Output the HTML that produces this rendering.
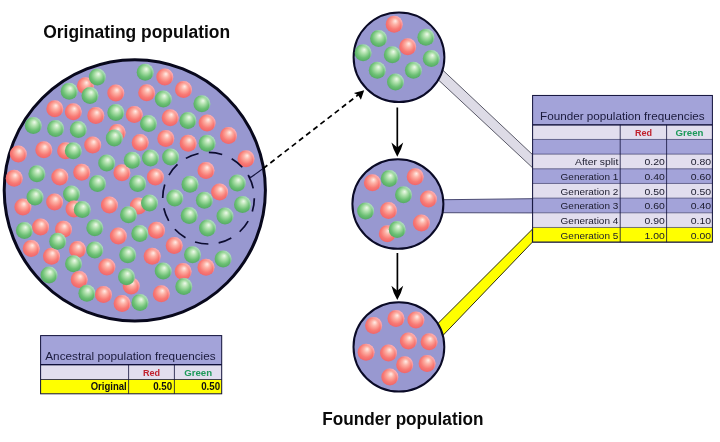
<!DOCTYPE html>
<html lang="en">
<head>
<meta charset="utf-8">
<title>Founder effect</title>
<style>
html,body{margin:0;padding:0;background:#fff;}
body{width:720px;height:442px;overflow:hidden;}
svg{display:block;will-change:transform;}
svg text{font-family:"Liberation Sans",sans-serif;}
</style>
</head>
<body>
<svg width="720" height="442" viewBox="0 0 720 442">
<defs>
<radialGradient id="gR" cx="0.5" cy="0.45" r="0.6" fx="0.57" fy="0.31">
<stop offset="0" stop-color="#ffeee8"/>
<stop offset="0.3" stop-color="#fdb2a6"/>
<stop offset="0.66" stop-color="#f87a74"/>
<stop offset="1" stop-color="#ee6068"/>
</radialGradient>
<radialGradient id="gG" cx="0.5" cy="0.45" r="0.6" fx="0.57" fy="0.31">
<stop offset="0" stop-color="#f0faec"/>
<stop offset="0.3" stop-color="#b2e2ae"/>
<stop offset="0.66" stop-color="#6cc074"/>
<stop offset="1" stop-color="#4ea460"/>
</radialGradient>
<radialGradient id="rimR" cx="0.34" cy="0.62" r="0.76">
<stop offset="0.72" stop-color="#ffd0e0" stop-opacity="0"/>
<stop offset="1" stop-color="#ffdcec" stop-opacity="0.95"/>
</radialGradient>
<radialGradient id="rimG" cx="0.34" cy="0.62" r="0.76">
<stop offset="0.72" stop-color="#e0f0ff" stop-opacity="0"/>
<stop offset="1" stop-color="#e6f2fc" stop-opacity="0.95"/>
</radialGradient>
<g id="bR"><circle r="8.5" fill="url(#gR)"/><circle r="8.5" fill="url(#rimR)"/></g>
<g id="bG"><circle r="8.5" fill="url(#gG)"/><circle r="8.5" fill="url(#rimG)"/></g>
</defs>
<rect width="720" height="442" fill="#ffffff"/>

<!-- connectors -->
<polygon points="435.4,63.2 532.4,154.5 532.4,167.6 430.2,72.3" fill="#dddbe6" stroke="#5a5a68" stroke-width="1"/>
<polygon points="436,199.8 532.4,198.7 532.4,212.9 436,212.7" fill="#a3a3d9" stroke="#4a4a72" stroke-width="1"/>
<polygon points="429.2,332.2 532.4,229.2 532.4,242.1 435.2,343.5" fill="#ffff00" stroke="#2c2c10" stroke-width="1"/>

<!-- big circle -->
<circle cx="134.8" cy="190.35" r="130.6" fill="#9898d0" stroke="#08081c" stroke-width="3"/>
<use href="#bG" x="145.2" y="72.2"/>
<use href="#bR" x="85.4" y="85.8"/>
<use href="#bG" x="97.3" y="77.1"/>
<use href="#bR" x="164.8" y="77.1"/>
<use href="#bG" x="69.2" y="91.3"/>
<use href="#bG" x="90.0" y="95.4"/>
<use href="#bR" x="115.8" y="93.1"/>
<use href="#bR" x="146.7" y="92.7"/>
<use href="#bR" x="183.5" y="89.6"/>
<use href="#bG" x="163.3" y="99.0"/>
<use href="#bG" x="201.9" y="103.8"/>
<use href="#bR" x="54.8" y="108.8"/>
<use href="#bR" x="73.3" y="111.7"/>
<use href="#bR" x="95.8" y="115.6"/>
<use href="#bG" x="115.8" y="112.5"/>
<use href="#bR" x="134.3" y="114.6"/>
<use href="#bR" x="170.2" y="117.7"/>
<use href="#bG" x="187.9" y="120.4"/>
<use href="#bR" x="207.1" y="122.9"/>
<use href="#bG" x="33.3" y="125.4"/>
<use href="#bG" x="55.6" y="128.6"/>
<use href="#bG" x="78.3" y="129.4"/>
<use href="#bG" x="148.5" y="123.5"/>
<use href="#bR" x="117.1" y="132.4"/>
<use href="#bG" x="114.3" y="138.0"/>
<use href="#bR" x="228.5" y="135.6"/>
<use href="#bR" x="92.7" y="145.0"/>
<use href="#bR" x="140.2" y="142.4"/>
<use href="#bR" x="165.8" y="138.5"/>
<use href="#bR" x="188.2" y="143.2"/>
<use href="#bG" x="207.1" y="143.3"/>
<use href="#bR" x="18.3" y="154.0"/>
<use href="#bR" x="43.8" y="149.8"/>
<use href="#bR" x="65.6" y="150.8"/>
<use href="#bG" x="73.3" y="150.8"/>
<use href="#bG" x="106.7" y="162.9"/>
<use href="#bR" x="121.9" y="172.7"/>
<use href="#bG" x="132.3" y="160.2"/>
<use href="#bG" x="150.5" y="158.0"/>
<use href="#bG" x="170.6" y="157.1"/>
<use href="#bR" x="246.0" y="158.8"/>
<use href="#bR" x="14.2" y="178.3"/>
<use href="#bG" x="36.9" y="173.8"/>
<use href="#bR" x="59.8" y="176.9"/>
<use href="#bR" x="81.7" y="172.3"/>
<use href="#bR" x="206.0" y="170.6"/>
<use href="#bR" x="155.4" y="176.9"/>
<use href="#bG" x="97.5" y="183.5"/>
<use href="#bG" x="137.7" y="183.5"/>
<use href="#bG" x="190.0" y="184.2"/>
<use href="#bG" x="237.3" y="183.1"/>
<use href="#bR" x="219.6" y="192.1"/>
<use href="#bR" x="22.9" y="207.0"/>
<use href="#bG" x="35.0" y="197.1"/>
<use href="#bG" x="71.5" y="194.0"/>
<use href="#bG" x="174.8" y="198.1"/>
<use href="#bG" x="204.4" y="200.2"/>
<use href="#bG" x="242.5" y="204.4"/>
<use href="#bR" x="54.6" y="201.9"/>
<use href="#bR" x="74.0" y="209.0"/>
<use href="#bG" x="82.3" y="209.5"/>
<use href="#bR" x="109.4" y="205.0"/>
<use href="#bR" x="138.4" y="206.0"/>
<use href="#bG" x="149.5" y="203.0"/>
<use href="#bG" x="128.5" y="214.8"/>
<use href="#bG" x="189.2" y="215.6"/>
<use href="#bG" x="225.0" y="216.0"/>
<use href="#bG" x="24.4" y="230.4"/>
<use href="#bR" x="40.6" y="227.0"/>
<use href="#bR" x="63.5" y="229.2"/>
<use href="#bG" x="94.8" y="227.7"/>
<use href="#bG" x="207.5" y="228.1"/>
<use href="#bR" x="118.3" y="236.0"/>
<use href="#bG" x="139.8" y="233.6"/>
<use href="#bR" x="156.5" y="230.2"/>
<use href="#bR" x="51.5" y="256.2"/>
<use href="#bG" x="57.7" y="241.2"/>
<use href="#bR" x="31.2" y="248.5"/>
<use href="#bR" x="77.5" y="249.6"/>
<use href="#bG" x="94.8" y="250.0"/>
<use href="#bR" x="174.2" y="245.4"/>
<use href="#bG" x="127.7" y="254.8"/>
<use href="#bR" x="152.2" y="256.2"/>
<use href="#bG" x="192.5" y="254.8"/>
<use href="#bG" x="223.1" y="259.0"/>
<use href="#bG" x="73.5" y="263.8"/>
<use href="#bR" x="106.9" y="267.0"/>
<use href="#bR" x="206.0" y="267.3"/>
<use href="#bG" x="163.2" y="271.0"/>
<use href="#bR" x="183.1" y="271.5"/>
<use href="#bG" x="49.0" y="275.0"/>
<use href="#bR" x="79.2" y="279.4"/>
<use href="#bR" x="131.2" y="286.0"/>
<use href="#bG" x="126.5" y="276.7"/>
<use href="#bG" x="183.8" y="286.5"/>
<use href="#bG" x="86.9" y="293.3"/>
<use href="#bR" x="103.5" y="294.4"/>
<use href="#bR" x="161.3" y="293.8"/>
<use href="#bR" x="122.1" y="303.5"/>
<use href="#bG" x="140.0" y="302.5"/>
<circle cx="208.5" cy="198.2" r="45.8" fill="none" stroke="#0c0c30" stroke-width="1.7" stroke-dasharray="13.6 10.38"/>

<!-- small circles -->
<ellipse cx="399" cy="57.3" rx="45.4" ry="44.8" fill="#9898d0" stroke="#0a0a26" stroke-width="2"/>
<use href="#bR" x="394.2" y="24.2"/>
<use href="#bG" x="378.6" y="38.6"/>
<use href="#bG" x="425.9" y="37.3"/>
<use href="#bG" x="392.3" y="54.8"/>
<use href="#bR" x="407.7" y="46.8"/>
<use href="#bG" x="363.1" y="52.8"/>
<use href="#bG" x="431.3" y="58.5"/>
<use href="#bG" x="377.3" y="70.2"/>
<use href="#bG" x="413.4" y="70.2"/>
<use href="#bG" x="395.5" y="82.1"/>
<ellipse cx="397.9" cy="204" rx="45.5" ry="44.8" fill="#9898d0" stroke="#0a0a26" stroke-width="2"/>
<use href="#bR" x="372.4" y="182.8"/>
<use href="#bG" x="389.3" y="178.6"/>
<use href="#bR" x="415.2" y="176.8"/>
<use href="#bG" x="403.5" y="194.8"/>
<use href="#bR" x="428.4" y="199.0"/>
<use href="#bG" x="365.6" y="210.9"/>
<use href="#bR" x="388.5" y="210.4"/>
<use href="#bR" x="421.4" y="222.9"/>
<use href="#bR" x="387.3" y="233.8"/>
<use href="#bG" x="397.2" y="229.6"/>
<ellipse cx="398.9" cy="346.9" rx="45.4" ry="44.7" fill="#9898d0" stroke="#0a0a26" stroke-width="2"/>
<use href="#bR" x="373.6" y="325.6"/>
<use href="#bR" x="396.0" y="318.6"/>
<use href="#bR" x="415.9" y="319.9"/>
<use href="#bR" x="408.4" y="341.0"/>
<use href="#bR" x="429.1" y="341.8"/>
<use href="#bR" x="366.1" y="352.2"/>
<use href="#bR" x="388.5" y="353.0"/>
<use href="#bR" x="404.7" y="364.7"/>
<use href="#bR" x="427.1" y="363.4"/>
<use href="#bR" x="389.8" y="377.1"/>

<!-- dashed arrow -->
<line x1="247.8" y1="175" x2="250.8" y2="177.8" stroke="#10103a" stroke-width="1.2"/>
<line x1="250.6" y1="177.6" x2="263.8" y2="168" stroke="#10103a" stroke-width="1.2"/>
<line x1="263.2" y1="168.5" x2="358.6" y2="94.6" stroke="#000" stroke-width="1.7" stroke-dasharray="5.3 3.75"/>
<polygon points="364.2,90.2 360.9,99.8 358.2,95.2 353.9,93" fill="#000"/>

<!-- vertical arrows -->
<line x1="397.3" y1="107.5" x2="397.3" y2="149" stroke="#000" stroke-width="1.7"/>
<path d="M397.3,156.8 Q393.0,149.20000000000002 391.40000000000003,142.5 L397.3,147.60000000000002 L403.2,142.5 Q401.6,149.20000000000002 397.3,156.8Z" fill="#000"/>
<line x1="397.4" y1="253" x2="397.4" y2="292" stroke="#000" stroke-width="1.7"/>
<path d="M397.3,300.0 Q393.0,292.4 391.40000000000003,285.7 L397.3,290.8 L403.2,285.7 Q401.6,292.4 397.3,300.0Z" fill="#000"/>

<!-- tables -->
<rect x="532.6" y="95.45" width="179.8" height="29.34" fill="#a3a3d9"/>
<rect x="532.6" y="124.79" width="179.8" height="14.67" fill="#e2deee"/>
<rect x="532.6" y="139.46" width="179.8" height="14.67" fill="#a3a3d9"/>
<rect x="532.6" y="154.13" width="179.8" height="14.67" fill="#e2deee"/>
<rect x="532.6" y="168.80" width="179.8" height="14.67" fill="#a3a3d9"/>
<rect x="532.6" y="183.47" width="179.8" height="14.67" fill="#e2deee"/>
<rect x="532.6" y="198.14" width="179.8" height="14.67" fill="#a3a3d9"/>
<rect x="532.6" y="212.81" width="179.8" height="14.67" fill="#e2deee"/>
<rect x="532.6" y="227.48" width="179.8" height="14.67" fill="#ffff00"/>
<line x1="532.6" y1="124.79" x2="712.4" y2="124.79" stroke="#3a3a68" stroke-width="0.7"/>
<line x1="532.6" y1="139.46" x2="712.4" y2="139.46" stroke="#3a3a68" stroke-width="0.7"/>
<line x1="532.6" y1="154.13" x2="712.4" y2="154.13" stroke="#3a3a68" stroke-width="0.7"/>
<line x1="532.6" y1="168.80" x2="712.4" y2="168.80" stroke="#3a3a68" stroke-width="0.7"/>
<line x1="532.6" y1="183.47" x2="712.4" y2="183.47" stroke="#3a3a68" stroke-width="0.7"/>
<line x1="532.6" y1="198.14" x2="712.4" y2="198.14" stroke="#3a3a68" stroke-width="0.7"/>
<line x1="532.6" y1="212.81" x2="712.4" y2="212.81" stroke="#3a3a68" stroke-width="0.7"/>
<line x1="532.6" y1="227.48" x2="712.4" y2="227.48" stroke="#3a3a68" stroke-width="0.7"/>
<line x1="532.6" y1="242.15" x2="712.4" y2="242.15" stroke="#3a3a68" stroke-width="0.7"/>
<line x1="620.2" y1="124.79" x2="620.2" y2="242.15" stroke="#10103a" stroke-width="0.8"/>
<line x1="666.6" y1="124.79" x2="666.6" y2="242.15" stroke="#10103a" stroke-width="0.8"/>
<line x1="532.6" y1="124.79" x2="712.4" y2="124.79" stroke="#10103a" stroke-width="1.3"/>
<rect x="532.6" y="95.45" width="179.8" height="146.70" fill="none" stroke="#10103a" stroke-width="1"/>
<text x="540" y="120.3" font-size="11.4" fill="#1a1a3c" textLength="164.6" lengthAdjust="spacingAndGlyphs">Founder population frequencies</text>
<text x="634.9" y="135.8" font-size="9.2" font-weight="bold" fill="#c0202c" textLength="17.1" lengthAdjust="spacingAndGlyphs">Red</text>
<text x="675.6" y="135.8" font-size="9.2" font-weight="bold" fill="#1e9a5a" textLength="27.9" lengthAdjust="spacingAndGlyphs">Green</text>
<text x="575.0" y="165.20" font-size="9.9" fill="#1a1a2c" textLength="43.3" lengthAdjust="spacingAndGlyphs">After split</text>
<text x="644.5" y="165.20" font-size="9.9" fill="#1a1a2c" textLength="20.3" lengthAdjust="spacingAndGlyphs">0.20</text>
<text x="690.8" y="165.20" font-size="9.9" fill="#1a1a2c" textLength="20.3" lengthAdjust="spacingAndGlyphs">0.80</text>
<text x="560.6" y="179.87" font-size="9.9" fill="#1a1a2c" textLength="57.7" lengthAdjust="spacingAndGlyphs">Generation 1</text>
<text x="644.5" y="179.87" font-size="9.9" fill="#1a1a2c" textLength="20.3" lengthAdjust="spacingAndGlyphs">0.40</text>
<text x="690.8" y="179.87" font-size="9.9" fill="#1a1a2c" textLength="20.3" lengthAdjust="spacingAndGlyphs">0.60</text>
<text x="560.6" y="194.54" font-size="9.9" fill="#1a1a2c" textLength="57.7" lengthAdjust="spacingAndGlyphs">Generation 2</text>
<text x="644.5" y="194.54" font-size="9.9" fill="#1a1a2c" textLength="20.3" lengthAdjust="spacingAndGlyphs">0.50</text>
<text x="690.8" y="194.54" font-size="9.9" fill="#1a1a2c" textLength="20.3" lengthAdjust="spacingAndGlyphs">0.50</text>
<text x="560.6" y="209.21" font-size="9.9" fill="#1a1a2c" textLength="57.7" lengthAdjust="spacingAndGlyphs">Generation 3</text>
<text x="644.5" y="209.21" font-size="9.9" fill="#1a1a2c" textLength="20.3" lengthAdjust="spacingAndGlyphs">0.60</text>
<text x="690.8" y="209.21" font-size="9.9" fill="#1a1a2c" textLength="20.3" lengthAdjust="spacingAndGlyphs">0.40</text>
<text x="560.6" y="223.88" font-size="9.9" fill="#1a1a2c" textLength="57.7" lengthAdjust="spacingAndGlyphs">Generation 4</text>
<text x="644.5" y="223.88" font-size="9.9" fill="#1a1a2c" textLength="20.3" lengthAdjust="spacingAndGlyphs">0.90</text>
<text x="690.8" y="223.88" font-size="9.9" fill="#1a1a2c" textLength="20.3" lengthAdjust="spacingAndGlyphs">0.10</text>
<text x="560.6" y="238.55" font-size="9.9" fill="#1a1a2c" textLength="57.7" lengthAdjust="spacingAndGlyphs">Generation 5</text>
<text x="644.5" y="238.55" font-size="9.9" fill="#1a1a2c" textLength="20.3" lengthAdjust="spacingAndGlyphs">1.00</text>
<text x="690.8" y="238.55" font-size="9.9" fill="#1a1a2c" textLength="20.3" lengthAdjust="spacingAndGlyphs">0.00</text>
<rect x="40.6" y="335.6" width="181.1" height="29.10" fill="#a3a3d9"/>
<rect x="40.6" y="364.7" width="181.1" height="14.80" fill="#e2deee"/>
<rect x="40.6" y="379.5" width="181.1" height="14.30" fill="#ffff00"/>
<line x1="40.6" y1="364.7" x2="221.7" y2="364.7" stroke="#10103a" stroke-width="0.8"/>
<line x1="40.6" y1="379.5" x2="221.7" y2="379.5" stroke="#10103a" stroke-width="0.8"/>
<line x1="128.6" y1="364.7" x2="128.6" y2="393.8" stroke="#10103a" stroke-width="0.8"/>
<line x1="174.4" y1="364.7" x2="174.4" y2="393.8" stroke="#10103a" stroke-width="0.8"/>
<line x1="40.6" y1="364.7" x2="221.7" y2="364.7" stroke="#10103a" stroke-width="1.3"/>
<rect x="40.6" y="335.6" width="181.1" height="58.20" fill="none" stroke="#10103a" stroke-width="1"/>
<text x="45.3" y="359.7" font-size="11.4" fill="#1a1a3c" textLength="170.3" lengthAdjust="spacingAndGlyphs">Ancestral population frequencies</text>
<text x="142.9" y="375.9" font-size="9.2" font-weight="bold" fill="#c0202c" textLength="17.1" lengthAdjust="spacingAndGlyphs">Red</text>
<text x="184.2" y="375.9" font-size="9.2" font-weight="bold" fill="#1e9a5a" textLength="27.9" lengthAdjust="spacingAndGlyphs">Green</text>
<text x="90.7" y="390.4" font-size="10.7" font-weight="bold" fill="#111" textLength="36" lengthAdjust="spacingAndGlyphs">Original</text>
<text x="153.2" y="390.4" font-size="10.7" font-weight="bold" fill="#111" textLength="19" lengthAdjust="spacingAndGlyphs">0.50</text>
<text x="201.2" y="390.4" font-size="10.7" font-weight="bold" fill="#111" textLength="19" lengthAdjust="spacingAndGlyphs">0.50</text>

<!-- headings -->
<text x="43.2" y="37.8" font-size="18" font-weight="bold" fill="#0a0a0a" textLength="187" lengthAdjust="spacingAndGlyphs">Originating population</text>
<text x="322.2" y="425.2" font-size="18" font-weight="bold" fill="#0a0a0a" textLength="161.2" lengthAdjust="spacingAndGlyphs">Founder population</text>
</svg>
</body>
</html>
